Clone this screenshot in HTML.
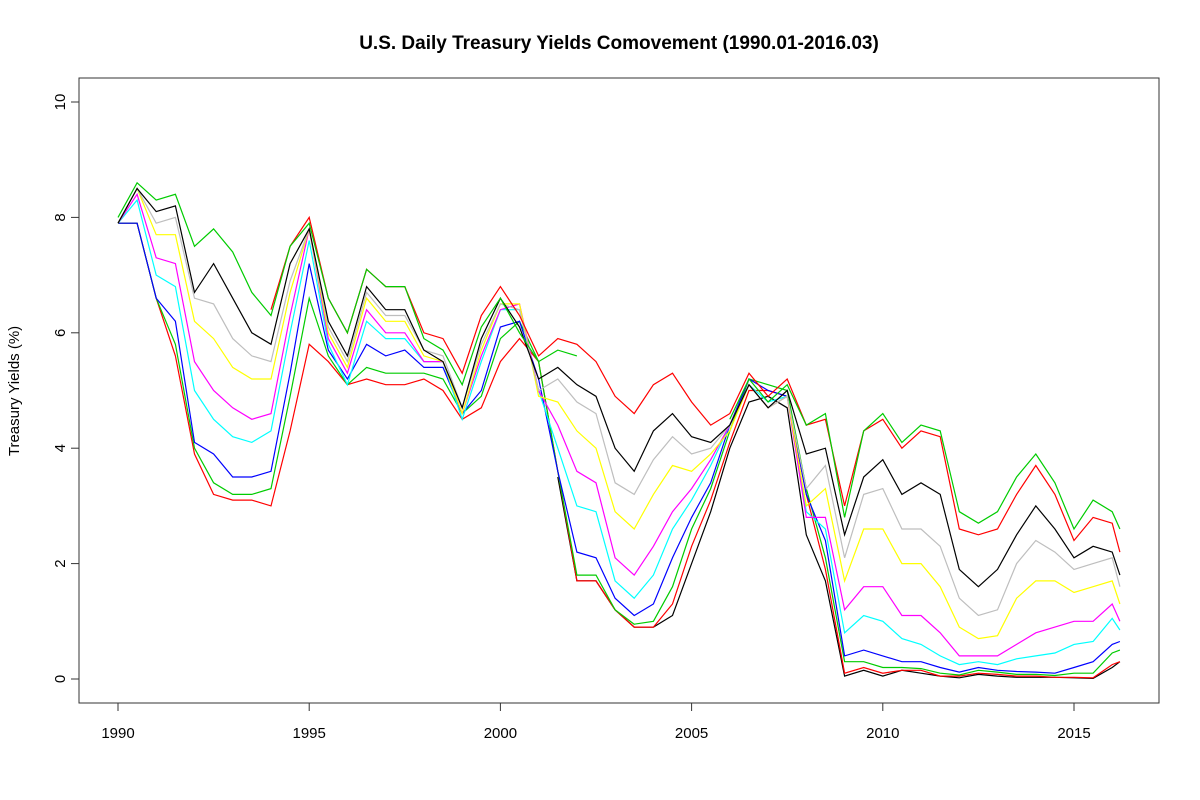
<!DOCTYPE html>
<html><head><meta charset="utf-8"><style>
body{margin:0;background:#fff;}
svg{display:block;font-family:"Liberation Sans",Arial,sans-serif;}
</style></head><body>
<svg id="chart" width="1200" height="800">
<text x="619" y="49" text-anchor="middle" font-size="19" font-weight="bold">U.S. Daily Treasury Yields Comovement (1990.01-2016.03)</text>
<text transform="translate(19,391) rotate(-90)" text-anchor="middle" font-size="15">Treasury Yields (%)</text>
<rect x="79" y="78" width="1080" height="625" fill="none" stroke="#333" stroke-width="1"/>
<g id="axes"></g>
<g id="series"></g>
</svg>
<script>
const dates=[1990,1990.5,1991,1991.5,1992,1992.5,1993,1993.5,1994,1994.5,1995,1995.5,1996,1996.5,1997,1997.5,1998,1998.5,1999,1999.5,2000,2000.5,2001,2001.5,2002,2002.5,2003,2003.5,2004,2004.5,2005,2005.5,2006,2006.5,2007,2007.5,2008,2008.5,2009,2009.5,2010,2010.5,2011,2011.5,2012,2012.5,2013,2013.5,2014,2014.5,2015,2015.5,2016,2016.2];
const xTicks=[1990,1995,2000,2005,2010,2015];
const yTicks=[0,2,4,6,8,10];
const seriesColors=["#000","#f00","#0c0","#00f","#0ff","#f0f","#ff0","#bebebe","#000","#f00","#0c0"];
const seriesNames=["1m","3m","6m","1y","2y","3y","5y","7y","10y","20y","30y"];
const y1m=[null,null,null,null,null,null,null,null,null,null,null,null,null,null,null,null,null,null,null,null,null,null,null,3.5,1.7,1.7,1.2,0.9,0.9,1.1,2.0,2.9,4.0,4.8,4.9,4.7,2.5,1.7,0.05,0.15,0.05,0.15,0.1,0.05,0.02,0.08,0.05,0.03,0.03,0.03,0.02,0.01,0.2,0.3];
const y3m=[7.9,7.9,6.6,5.6,3.9,3.2,3.1,3.1,3.0,4.3,5.8,5.5,5.1,5.2,5.1,5.1,5.2,5.0,4.5,4.7,5.5,5.9,5.5,3.6,1.7,1.7,1.2,0.9,0.9,1.3,2.3,3.1,4.1,5.0,5.0,4.9,3.2,1.9,0.1,0.2,0.1,0.15,0.15,0.05,0.05,0.1,0.08,0.05,0.05,0.03,0.03,0.02,0.25,0.3];
const y6m=[7.9,7.9,6.6,5.8,4.0,3.4,3.2,3.2,3.3,4.9,6.6,5.6,5.1,5.4,5.3,5.3,5.3,5.2,4.6,4.9,5.9,6.2,5.5,3.6,1.8,1.8,1.2,0.95,1.0,1.6,2.6,3.3,4.3,5.2,5.1,5.0,3.3,2.1,0.3,0.3,0.2,0.2,0.18,0.1,0.07,0.15,0.12,0.08,0.08,0.06,0.1,0.1,0.45,0.5];
const y1y=[7.9,7.9,6.6,6.2,4.1,3.9,3.5,3.5,3.6,5.3,7.2,5.7,5.2,5.8,5.6,5.7,5.4,5.4,4.6,5.0,6.1,6.2,5.2,3.6,2.2,2.1,1.4,1.1,1.3,2.1,2.8,3.4,4.4,5.2,5.0,4.9,3.2,2.4,0.4,0.5,0.4,0.3,0.3,0.2,0.12,0.2,0.15,0.13,0.12,0.1,0.2,0.3,0.6,0.65];
const y2y=[7.9,8.3,7.0,6.8,5.0,4.5,4.2,4.1,4.3,6.0,7.6,5.8,5.1,6.2,5.9,5.9,5.5,5.5,4.5,5.5,6.4,6.4,5.0,4.0,3.0,2.9,1.7,1.4,1.8,2.6,3.1,3.7,4.4,5.1,4.8,4.9,2.9,2.6,0.8,1.1,1.0,0.7,0.6,0.4,0.25,0.3,0.25,0.35,0.4,0.45,0.6,0.65,1.05,0.85];
const y3y=[7.9,8.4,7.3,7.2,5.5,5.0,4.7,4.5,4.6,6.3,7.8,5.9,5.3,6.4,6.0,6.0,5.5,5.5,4.6,5.6,6.4,6.5,5.0,4.4,3.6,3.4,2.1,1.8,2.3,2.9,3.3,3.8,4.4,5.1,4.7,4.9,2.8,2.8,1.2,1.6,1.6,1.1,1.1,0.8,0.4,0.4,0.4,0.6,0.8,0.9,1.0,1.0,1.3,1.0];
const y5y=[7.9,8.5,7.7,7.7,6.2,5.9,5.4,5.2,5.2,6.7,7.8,6.0,5.4,6.6,6.2,6.2,5.6,5.5,4.6,5.7,6.5,6.5,4.9,4.8,4.3,4.0,2.9,2.6,3.2,3.7,3.6,3.9,4.3,5.1,4.7,4.9,3.0,3.3,1.7,2.6,2.6,2.0,2.0,1.6,0.9,0.7,0.75,1.4,1.7,1.7,1.5,1.6,1.7,1.3];
const y7y=[7.9,8.5,7.9,8.0,6.6,6.5,5.9,5.6,5.5,6.9,7.8,6.1,5.5,6.7,6.3,6.3,5.7,5.6,4.7,5.8,6.5,6.4,5.0,5.2,4.8,4.6,3.4,3.2,3.8,4.2,3.9,4.0,4.4,5.1,4.7,4.9,3.3,3.7,2.1,3.2,3.3,2.6,2.6,2.3,1.4,1.1,1.2,2.0,2.4,2.2,1.9,2.0,2.1,1.6];
const y10y=[7.9,8.5,8.1,8.2,6.7,7.2,6.6,6.0,5.8,7.2,7.8,6.2,5.6,6.8,6.4,6.4,5.7,5.5,4.7,5.9,6.6,6.1,5.2,5.4,5.1,4.9,4.0,3.6,4.3,4.6,4.2,4.1,4.4,5.1,4.7,5.0,3.9,4.0,2.5,3.5,3.8,3.2,3.4,3.2,1.9,1.6,1.9,2.5,3.0,2.6,2.1,2.3,2.2,1.8];
const y20y=[null,null,null,null,null,null,null,null,6.4,7.5,8.0,6.6,6.0,7.1,6.8,6.8,6.0,5.9,5.3,6.3,6.8,6.3,5.6,5.9,5.8,5.5,4.9,4.6,5.1,5.3,4.8,4.4,4.6,5.3,4.9,5.2,4.4,4.5,3.0,4.3,4.5,4.0,4.3,4.2,2.6,2.5,2.6,3.2,3.7,3.2,2.4,2.8,2.7,2.2];
const y30y=[8.0,8.6,8.3,8.4,7.5,7.8,7.4,6.7,6.3,7.5,7.9,6.6,6.0,7.1,6.8,6.8,5.9,5.7,5.1,6.1,6.6,6.0,5.5,5.7,5.6,null,null,null,null,null,null,null,4.5,5.2,4.8,5.1,4.4,4.6,2.8,4.3,4.6,4.1,4.4,4.3,2.9,2.7,2.9,3.5,3.9,3.4,2.6,3.1,2.9,2.6];
const allSeries=[y1m,y3m,y6m,y1y,y2y,y3y,y5y,y7y,y10y,y20y,y30y];

const NS="http://www.w3.org/2000/svg";
function xs(t){return 118+(t-1990)*(956/25);}
function ys(v){return 679-v*57.7;}
const axes=document.getElementById('axes');
function mk(tag,attrs,parent){const e=document.createElementNS(NS,tag);for(const k in attrs)e.setAttribute(k,attrs[k]);parent.appendChild(e);return e;}
const xl=mk('line',{x1:xs(1990),x2:xs(2015),y1:703,y2:703,stroke:'#333'},axes);


xTicks.forEach(t=>{
  const l=mk('line',{x1:xs(t),x2:xs(t),y1:703,y2:711,stroke:'#333'},axes);
  
  
  const tx=mk('text',{x:xs(t),y:738,'text-anchor':'middle','font-size':15},axes);
  tx.textContent=t;
  
  
});
yTicks.forEach(v=>{
  const l=mk('line',{x1:71,x2:79,y1:ys(v),y2:ys(v),stroke:'#333'},axes);
  
  
  const tx=mk('text',{transform:`translate(65,${ys(v)}) rotate(-90)`,'text-anchor':'middle','font-size':15},axes);
  tx.textContent=v;
  
  
});
const sg=document.getElementById('series');
allSeries.forEach((arr,i)=>{
  let d='',pen=false;
  arr.forEach((v,j)=>{
    if(v===null){pen=false;return;}
    d+=(pen?'L':'M')+xs(dates[j]).toFixed(1)+','+ys(v).toFixed(1);pen=true;
  });
  const p=mk('path',{d:d,fill:'none',stroke:seriesColors[i],'stroke-width':1.2},sg);
  
  
});
</script>
</body></html>
